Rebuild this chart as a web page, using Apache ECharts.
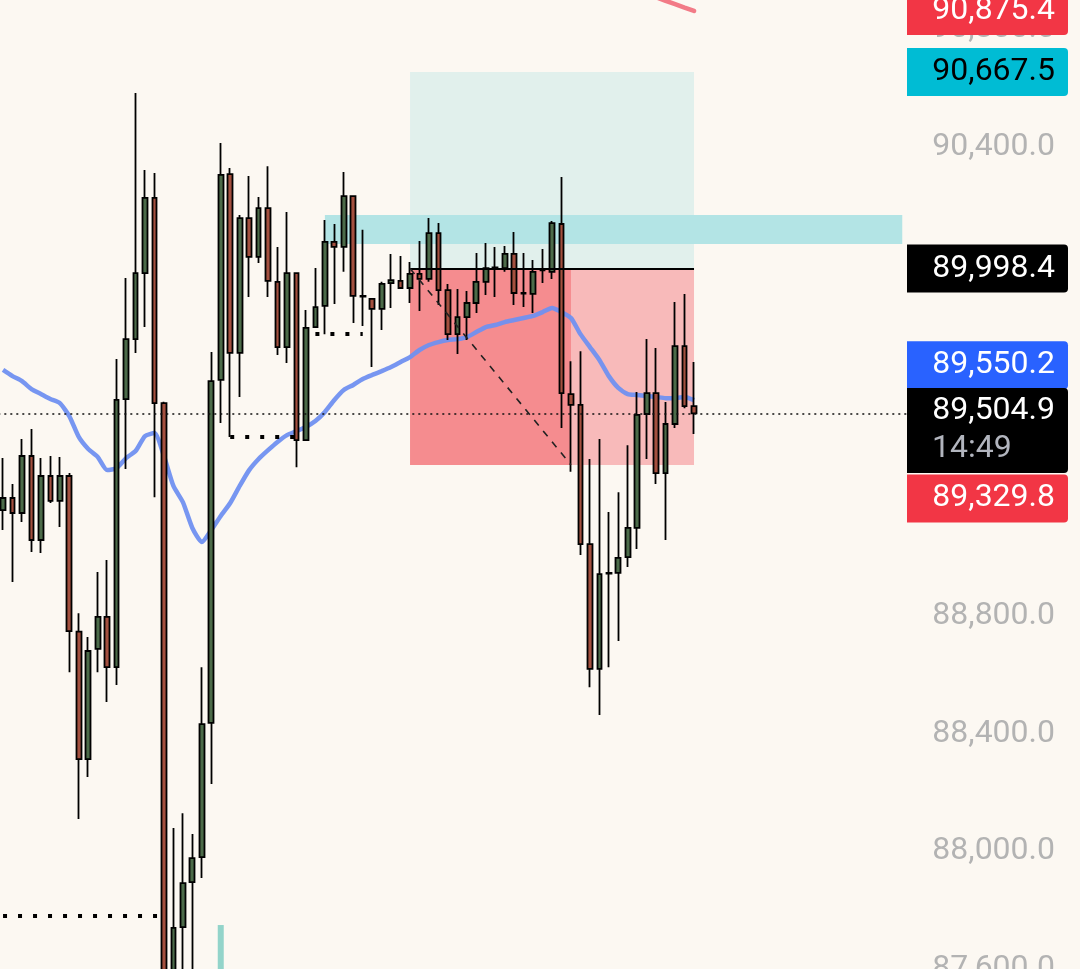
<!DOCTYPE html>
<html>
<head>
<meta charset="utf-8">
<script src="https://cdn.jsdelivr.net/npm/echarts@6/dist/echarts.min.js"></script>
<style>
html,body{margin:0;padding:0;background:#fcf8f2;}
#c{width:1080px;height:969px;}
</style>
</head>
<body>
<div id="c"></div>
<script>
// ---------- data ----------
const slotCount = 96; // 74 candles + empty future slots
const open  = [89176,89217,89166,89360,89074,89292,89207,89292,88762,88328,88703,88812,88641,89554,89758,89983,90239,89540,87590,87756,87909,87994,88451,89619,90320,89711,90170,90038,90204,89953,89731,89983,89414,89799,89871,90089,90072,90245,89905,89895,89861,89949,89956,89932,89980,89963,90119,89925,89775,89833,89881,89953,90000,90000,90048,89915,89912,89992,89987,90150,89571,89534,89060,88635,88960,88962,89016,89115,89503,89574,89302,89469,89734,89530];
const close = [89217,89166,89360,89074,89292,89207,89292,88764,88328,88696,88812,88641,89551,89758,89983,90239,89540,87560,87753,87906,87991,88447,89615,90317,89711,90170,90038,90204,89956,89731,89983,89414,89796,89867,90089,90072,90245,89905,89903,89861,89946,89959,89932,89980,89963,90119,89925,89775,89833,89881,89953,90000,90002,90048,89915,89913,89987,89994,90153,89574,89534,89060,88635,88958,88962,89013,89115,89500,89574,89302,89469,89734,89530,89504.9];
const low   = [89108,88931,89135,89033,89030,89200,89118,88624,88124,88267,88624,88522,88580,89316,89711,89799,89220,87480,87500,87590,87590,87923,88243,89472,89425,89561,89901,90017,89901,89704,89677,89322,89414,89796,89775,89878,89987,89813,89803,89663,89789,89864,89929,89881,89854,89953,89874,89755,89707,89755,89847,89908,89901,89987,89874,89867,89847,89949,89963,89455,89306,89023,88573,88478,88641,88730,88982,89043,89350,89265,89074,89455,89523,89435];
const high  = [89353,89265,89418,89452,89353,89360,89357,89302,88825,88744,88965,89006,89690,89966,90596,90334,90324,89545,88093,88144,88073,88641,89714,90426,90341,90181,90313,90242,90347,90072,90191,89983,89857,90000,90164,90150,90327,90245,90130,89895,89953,90048,90041,90021,90092,90170,90153,89946,89929,89922,90051,90085,90072,90075,90123,90051,90027,90065,90160,90310,89683,89717,89350,89418,89169,89237,89397,89578,89758,89728,89544,89884,89912,89680];
const movingAvg = [89653,89632,89615,89588,89571,89554,89540,89496,89425,89384,89357,89312,89319,89353,89377,89428,89438,89360,89258,89203,89115,89067,89108,89156,89200,89258,89312,89350,89380,89408,89431,89445,89459,89479,89510,89551,89585,89602,89622,89636,89649,89663,89680,89697,89721,89738,89748,89755,89758,89765,89782,89799,89806,89816,89823,89830,89837,89850,89864,89850,89830,89775,89731,89687,89632,89592,89571,89568,89564,89561,89557,89557,89561,89550.2];
const upperLineIdx = [68,69,70,71,72,73];
const upperLineVal = [90933,90922,90910,90899,90887,90875.4];
const volIdx = 23, volVal = 87763;

const lastPrice = 89504.9, countdown = '14:49';
const maLast = 89550.2, upperLast = 90875.4;
const entryPrice = 89998.4, targetPrice = 90667.5, stopPrice = 89329.8;
const entryIdx = 43, stopHitIdx = 60, toolEndIdx = 73;
const zoneTop = 90180.6, zoneBottom = 90081.9, zoneStartIdx = 34, zoneEndIdx = 95;
const levelValues = [87793.6, 89425, 89775];
const levelFrom   = [0, 24, 33];
const levelTo     = [17, 31, 38];
const yMin = 87600, yMax = 90912.7, yStep = 400;

// ---------- build ----------
function fmt(v){
  const s = Number(v).toFixed(1);
  const p = s.split('.');
  return p[0].replace(/\B(?=(\d{3})+(?!\d))/g, ',') + '.' + p[1];
}
const cats = [];
for (let i = 0; i < slotCount; i++) cats.push(String(i));
const candles = open.map((o, i) => [o, close[i], low[i], high[i]]);
const upperLine = new Array(slotCount).fill(null);
upperLineIdx.forEach((k, j) => { upperLine[k] = upperLineVal[j]; });
const volData = new Array(slotCount).fill('-');
volData[volIdx] = volVal;

const F = 'Roboto';
const baseTok = {fontFamily: F, fontSize: 32, width: 140, align: 'right', padding: [8,13,8,8], borderRadius: [0,4,4,0]};
const rich = {
  red:   Object.assign({}, baseTok, {backgroundColor: '#f23645', color: '#ffffff'}),
  cyan:  Object.assign({}, baseTok, {backgroundColor: '#00bcd4', color: '#000000'}),
  black: Object.assign({}, baseTok, {backgroundColor: '#000000', color: '#ffffff'}),
  blue:  Object.assign({}, baseTok, {backgroundColor: '#2962ff', color: '#ffffff'}),
  curA:  Object.assign({}, baseTok, {backgroundColor: '#000000', color: '#ffffff', padding: [7,13,3,8], borderRadius: [0,4,0,0]}),
  curB:  Object.assign({}, baseTok, {backgroundColor: '#000000', color: '#b2b5be', width: 123, align: 'left', padding: [3,13,8,25], borderRadius: [0,0,4,0]})
};
function tag(value, style, pad) {
  return {
    yAxis: value,
    lineStyle: {color: 'rgba(0,0,0,0)', width: 1, type: 'solid'},
    label: {show: true, position: 'end', distance: 0, padding: pad || 0, opacity: 1,
            formatter: '{' + style + '|' + fmt(value) + '}'}
  };
}

const markLines = [];
levelValues.forEach((v, k) => {
  markLines.push([
    {coord: [levelFrom[k], v], lineStyle: {type: [4, 11], width: 4, color: '#000', cap: 'butt'}, label: {show: false}},
    {coord: [levelTo[k], v]}
  ]);
});
markLines.push([
  {coord: [entryIdx, entryPrice], lineStyle: {type: 'solid', width: 2, color: '#000'}, label: {show: false}},
  {coord: [toolEndIdx, entryPrice]}
]);
markLines.push([
  {coord: [entryIdx, entryPrice], lineStyle: {type: [7, 7], width: 1.6, color: '#222'}, label: {show: false}},
  {coord: [stopHitIdx, stopPrice]}
]);
markLines.push(tag(upperLast, 'red'));
markLines.push(tag(targetPrice, 'cyan'));
markLines.push(tag(entryPrice, 'black'));
markLines.push(tag(stopPrice, 'red', [67, 0, 0, 0]));
markLines.push(tag(maLast, 'blue', [0, 0, 70, 0]));
markLines.push({
  yAxis: lastPrice,
  lineStyle: {type: [2, 4], width: 1.5, color: '#111'},
  label: {show: true, position: 'end', distance: 0, padding: [34, 0, 0, 0],
          formatter: '{curA|' + fmt(lastPrice) + '}\n{curB|' + countdown + '}'}
});

const option = {
  backgroundColor: '#fcf8f2',
  animation: false,
  grid: {left: -1.7, right: 173, top: 0, bottom: -3.9, containLabel: false, outerBoundsMode: 'none'},
  xAxis: {type: 'category', data: cats, show: false, boundaryGap: true},
  yAxis: {
    type: 'value', position: 'right', min: yMin, max: yMax, interval: yStep, scale: true,
    axisLine: {show: false}, axisTick: {show: false}, splitLine: {show: false},
    axisLabel: {
      showMaxLabel: false, showMinLabel: true,
      formatter: v => '{t|' + fmt(v) + '}',
      align: 'right', margin: 148, verticalAlign: 'middle',
      rich: {t: {color: '#b3b3b3', fontFamily: F, fontSize: 32, padding: [0, 0, 8, 0]}}
    }
  },
  series: [
    {
      type: 'line', name: 'MA', data: movingAvg, z: 1, silent: true,
      symbol: 'none', smooth: 0.2,
      lineStyle: {color: '#7090f0', width: 4.5, opacity: 0.95}
    },
    {
      type: 'candlestick', name: 'Price', data: candles, z: 2, silent: true,
      barWidth: 5.2,
      itemStyle: {color: '#4c6b49', color0: '#a4503f', borderColor: '#000', borderColor0: '#000', borderWidth: 1.8},
      markArea: {
        silent: true, z: 0.5,
        data: [
          [{xAxis: entryIdx, yAxis: targetPrice, itemStyle: {color: '#e1f0ec'}}, {xAxis: toolEndIdx, yAxis: entryPrice}],
          [{xAxis: entryIdx, yAxis: entryPrice, itemStyle: {color: '#f8baba'}}, {xAxis: toolEndIdx, yAxis: stopPrice}],
          [{xAxis: entryIdx, yAxis: entryPrice, itemStyle: {color: '#f58c8f'}}, {xAxis: stopHitIdx, yAxis: stopPrice}],
          [{xAxis: zoneStartIdx, yAxis: zoneTop, itemStyle: {color: '#b3e4e5'}}, {xAxis: zoneEndIdx, yAxis: zoneBottom}]
        ]
      },
      markLine: {
        silent: true, symbol: ['none', 'none'], z: 5,
        label: {rich: rich},
        data: markLines
      }
    },
    {
      type: 'line', name: 'Upper', data: upperLine, z: 2, silent: true,
      symbol: 'none', lineStyle: {color: '#f27b87', width: 4.5, cap: 'round'}
    },
    {
      type: 'bar', name: 'Vol', data: volData, barWidth: 6, z: 2, silent: true,
      itemStyle: {color: '#93d4ca'}
    }
  ]
};
const chart = echarts.init(document.getElementById('c'), null, {renderer: 'canvas'});
chart.setOption(option);
</script>
</body>
</html>
